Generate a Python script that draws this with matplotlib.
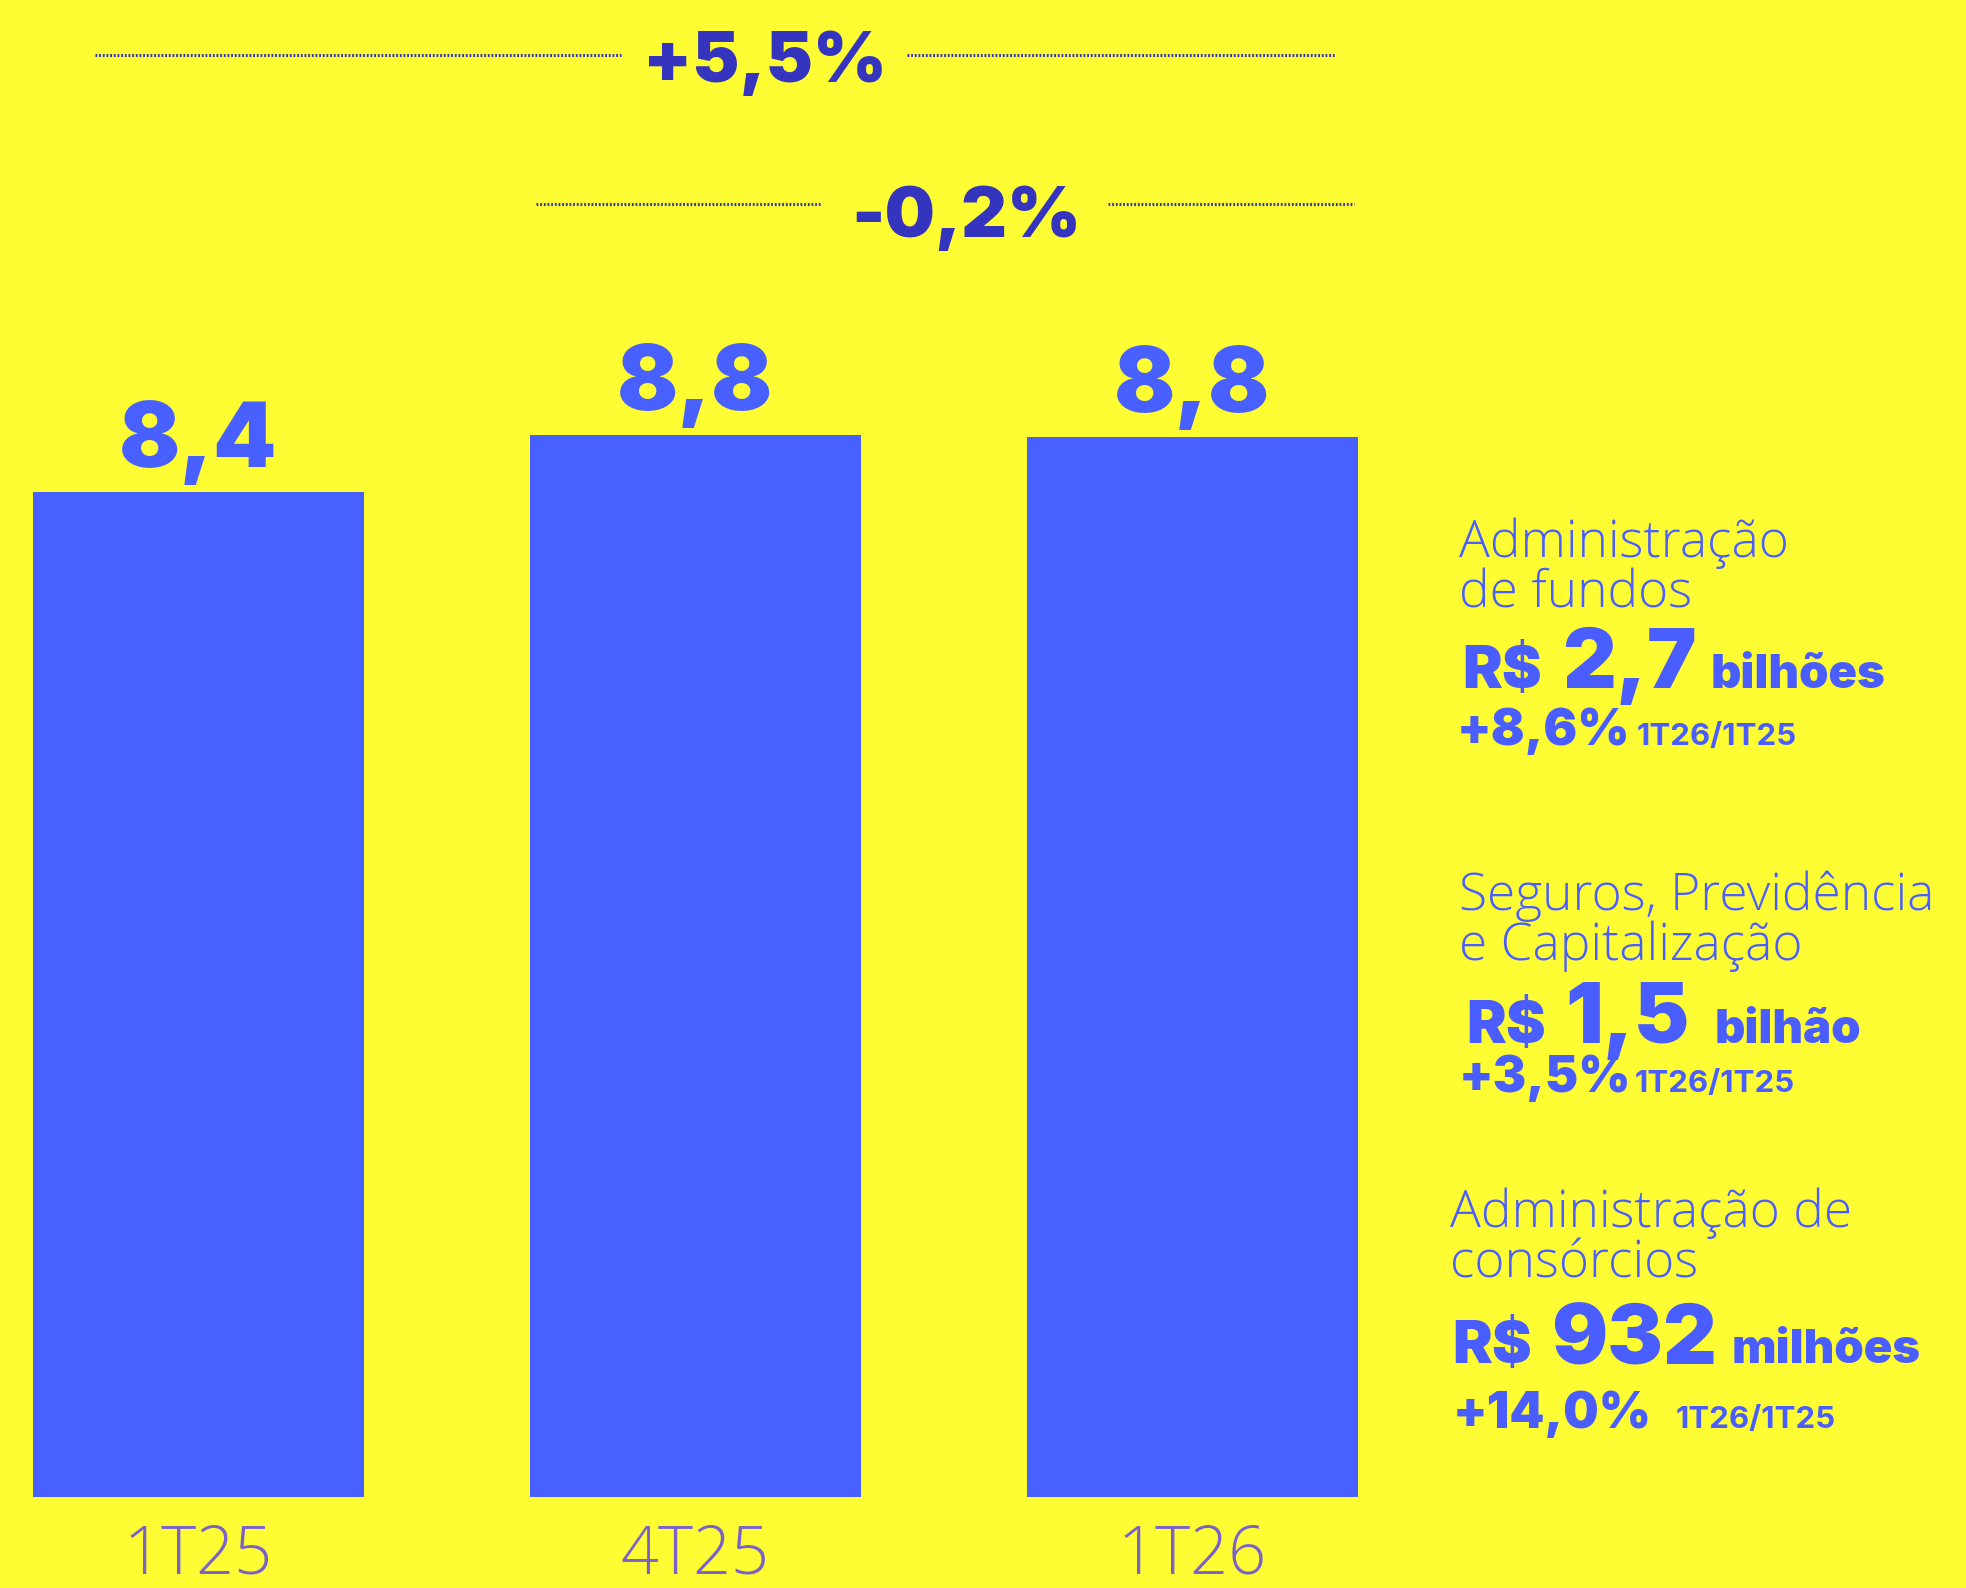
import matplotlib
matplotlib.use("Agg")
import matplotlib.pyplot as plt

# ---------------- data ----------------
periods = ["1T25", "4T25", "1T26"]
revenue = [8.33, 8.80, 8.78]          # R$ bilhões (bar heights)
value_labels = ["8,4", "8,8", "8,8"]
change_labels = ["+5,5%", "-0,2%"]    # 1T26/1T25 and 1T26/4T25

block_titles = [["Administração", "de fundos"],
                ["Seguros, Previdência", "e Capitalização"],
                ["Administração de", "consórcios"]]
block_amounts = ["2,7", "1,5", "932"]
block_units = ["bilhões", "bilhão", "milhões"]
block_growth = ["+8,6%", "+3,5%", "+14,0%"]
block_period = "1T26/1T25"

# ---------------- style ----------------
W, H = 1966, 1588
DPI = 100
BG = "#FEFD33"
BAR = "#4860FF"
DARK = "#3434BE"
TICK = "#7A62C8"
TXT = "#4A5EFF"

BOLD = ["Inter", "Lato", "DejaVu Sans"]
LIGHT = ["Open Sans", "DejaVu Sans"]

fig = plt.figure(figsize=(W / DPI, H / DPI), dpi=DPI, facecolor=BG)

base_px = 1497
unit_px = 120.7
ax = fig.add_axes([0, (H - base_px) / H, 1, base_px / H])
ax.set_facecolor(BG)
ax.set_xlim(-198 / 497, (W - 198) / 497)
ax.set_ylim(0, base_px / unit_px)
for s in ax.spines.values():
    s.set_visible(False)
ax.set_yticks([])

x = list(range(len(periods)))
ax.bar(x, revenue, width=331 / 497, color=BAR, zorder=2)
ax.set_xticks(x)
ax.set_xticklabels(periods, fontsize=48, color=TICK, family=LIGHT, fontweight="light")
ax.tick_params(axis="x", length=0, pad=19)

for xi, v, lab in zip(x, revenue, value_labels):
    ax.annotate(lab, (xi, v), xytext=(0, 18), textcoords="offset points",
                ha="center", va="baseline", fontsize=65, fontweight="black",
                family=BOLD, color=BAR, clip_on=False)

def to_data_y(py):
    return (base_px - py) / unit_px

def to_data_x(px):
    return (px - 198) / 497

brackets = [
    (55, (95, 621), (907, 1336), 765, 82),
    (204, (536, 822), (1108, 1354), 966, 237),
]
for (ly, lseg, rseg, tx, tb), lab in zip(brackets, change_labels):
    for seg in (lseg, rseg):
        ax.plot([to_data_x(seg[0]), to_data_x(seg[1])], [to_data_y(ly)] * 2,
                color=DARK, lw=2.2, linestyle=(0, (0.6, 0.6)), clip_on=False,
                solid_capstyle="butt", dash_capstyle="butt")
    ax.text(to_data_x(tx), to_data_y(tb), lab, ha="center", va="baseline",
            fontsize=51, fontweight="black", family=BOLD, color=DARK, clip_on=False)

def ftext(px, py, s, **kw):
    fig.text(px / W, 1 - py / H, s, va="baseline", ha="left", color=TXT, **kw)

blocks_layout = [
    dict(tx=1459, tb=(557, 608), rx=1462, ax_=1562, ux=1711, ab=688, gx=1457, px=1637, gb=745),
    dict(tx=1459, tb=(910, 960), rx=1466, ax_=1565, ux=1715, ab=1043, gx=1459, px=1635, gb=1092),
    dict(tx=1450, tb=(1227, 1278), rx=1452, ax_=1551, ux=1732, ab=1363, gx=1453, px=1676, gb=1428),
]
for L, title, amt, unit, gr in zip(blocks_layout, block_titles, block_amounts,
                                   block_units, block_growth):
    for line, b in zip(title, L["tb"]):
        ftext(L["tx"], b, line, fontsize=37, family=LIGHT, fontweight="light")
    ftext(L["rx"], L["ab"], "R$", fontsize=43, family=BOLD, fontweight="black")
    ftext(L["ax_"], L["ab"], amt, fontsize=60, family=BOLD, fontweight="black")
    ftext(L["ux"], L["ab"], unit, fontsize=34, family=BOLD, fontweight="black")
    ftext(L["gx"], L["gb"], gr, fontsize=36, family=BOLD, fontweight="black")
    ftext(L["px"], L["gb"], block_period, fontsize=22.5, family=BOLD, fontweight="bold")

fig.savefig("out.png", dpi=DPI, facecolor=BG)
